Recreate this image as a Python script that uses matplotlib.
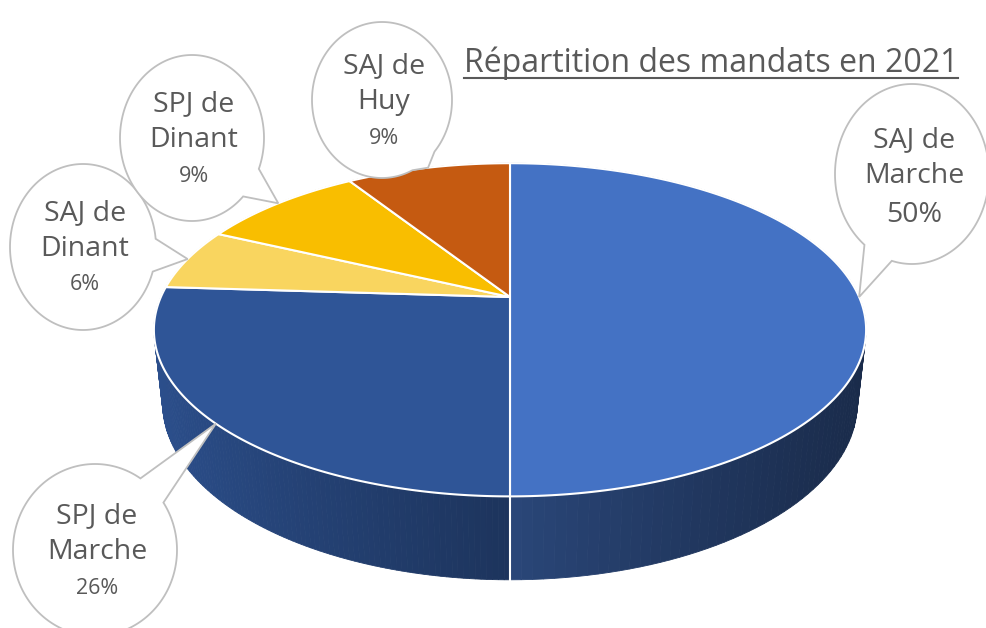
import numpy as np
import matplotlib.pyplot as plt
from matplotlib.patches import Polygon

# data, clockwise from 12 o'clock
names = ['SAJ de\nMarche', 'SPJ de\nMarche', 'SAJ de\nDinant', 'SPJ de\nDinant', 'SAJ de\nHuy']
values = [50, 26, 6, 9, 9]
colors = ['#4472C4', '#2F5597', '#F9D55F', '#F9BE00', '#C55A11']
title = 'Répartition des mandats en 2021'

# bubble layout (pixel coords): cx, cy, rx, ry
bubbles = [(912, 174, 77, 90), (95, 550, 82, 86), (83, 247, 73, 83),
           (192, 138, 72, 83), (382, 100, 70, 78)]

plt.rcParams['font.family'] = ['Open Sans', 'DejaVu Sans']
txt_col = '#595959'

# simple perspective for the 3d pie
CX, CY = 510, 297
F = 1576
A = np.radians(27.3)
D = 4.514
H = 0.238

def proj(theta, Y=0.0, r=1.0):
    X = r * np.sin(theta)
    Z = r * np.cos(theta)
    depth = D + Z * np.cos(A) - Y * np.sin(A)
    up = Y * np.cos(A) + Z * np.sin(A)
    return CX + F * X / depth, CY - F * up / depth

fig = plt.figure(figsize=(9.87, 6.28), dpi=100)
ax = fig.add_axes([0, 0, 1, 1])
ax.set_xlim(0, 987)
ax.set_ylim(628, 0)
ax.axis('off')

vals = np.array(values, dtype=float)
bounds = np.concatenate([[0], np.cumsum(vals)]) / vals.sum() * 2 * np.pi

def shade(c, x):
    rgb = np.array(plt.matplotlib.colors.to_rgb(c))
    f = 0.93 - 0.55 * np.clip((x - 155) / 711, 0, 1) ** 0.8
    return rgb * f

# side walls
quads = []
for i, c in enumerate(colors):
    th = np.linspace(bounds[i], bounds[i + 1], 120)
    for a0, a1 in zip(th[:-1], th[1:]):
        x0, y0 = proj(a0)
        x1, y1 = proj(a1)
        x2, y2 = proj(a1, -H)
        x3, y3 = proj(a0, -H)
        zm = np.cos((a0 + a1) / 2)
        quads.append((zm, [(x0, y0), (x1, y1), (x2, y2), (x3, y3)], shade(c, (x0 + x1) / 2)))
quads.sort(key=lambda q: -q[0])
for zm, pts, col in quads:
    ax.add_patch(Polygon(pts, closed=True, facecolor=col, edgecolor=col, lw=0.6, zorder=1))

# white seams on the visible wall
for b in bounds[:-1]:
    if np.cos(b) < 0:
        x0, y0 = proj(b)
        x1, y1 = proj(b, -H)
        ax.plot([x0, x1], [y0, y1], color='white', lw=1.5, zorder=2)

# top faces
for i, c in enumerate(colors):
    th = np.linspace(bounds[i], bounds[i + 1], 200)
    xs, ys = proj(th)
    pts = [(CX, CY)] + list(zip(xs, ys))
    ax.add_patch(Polygon(pts, closed=True, facecolor=c, edgecolor='white', lw=1.5,
                         joinstyle='round', zorder=3))

# callout bubbles
for i, (bx, by, rx, ry) in enumerate(bubbles):
    mid = (bounds[i] + bounds[i + 1]) / 2
    tx, ty = proj(mid)
    phi = np.arctan2((ty - by) / ry, (tx - bx) / rx)
    d = 0.2
    t = np.linspace(phi + d, phi - d + 2 * np.pi, 300)
    pts = list(zip(bx + rx * np.cos(t), by + ry * np.sin(t))) + [(tx, ty)]
    ax.add_patch(Polygon(pts, closed=True, facecolor='white', edgecolor='#BFBFBF',
                         lw=1.3, zorder=5))
    ax.text(bx + 2, by - 16, names[i], ha='center', va='center', fontsize=20.5,
            color=txt_col, linespacing=1.4, zorder=6)
    if i == 0:
        ax.text(bx + 2, by + 41, f'{values[i]}%', ha='center', va='center', fontsize=20.5,
                color=txt_col, zorder=6)
    else:
        ax.text(bx + 2, by + 38, f'{values[i]}%', ha='center', va='center', fontsize=15.5,
                color=txt_col, zorder=6)

# title with underline
t = ax.text(711, 72, title, ha='center', va='baseline', fontsize=23, color=txt_col, zorder=6)
fig.canvas.draw()
bb = t.get_window_extent().transformed(ax.transData.inverted())
ax.plot([bb.x0, bb.x1], [78, 78], color=txt_col, lw=1.5, zorder=6)

fig.savefig('out.png', dpi=100)
